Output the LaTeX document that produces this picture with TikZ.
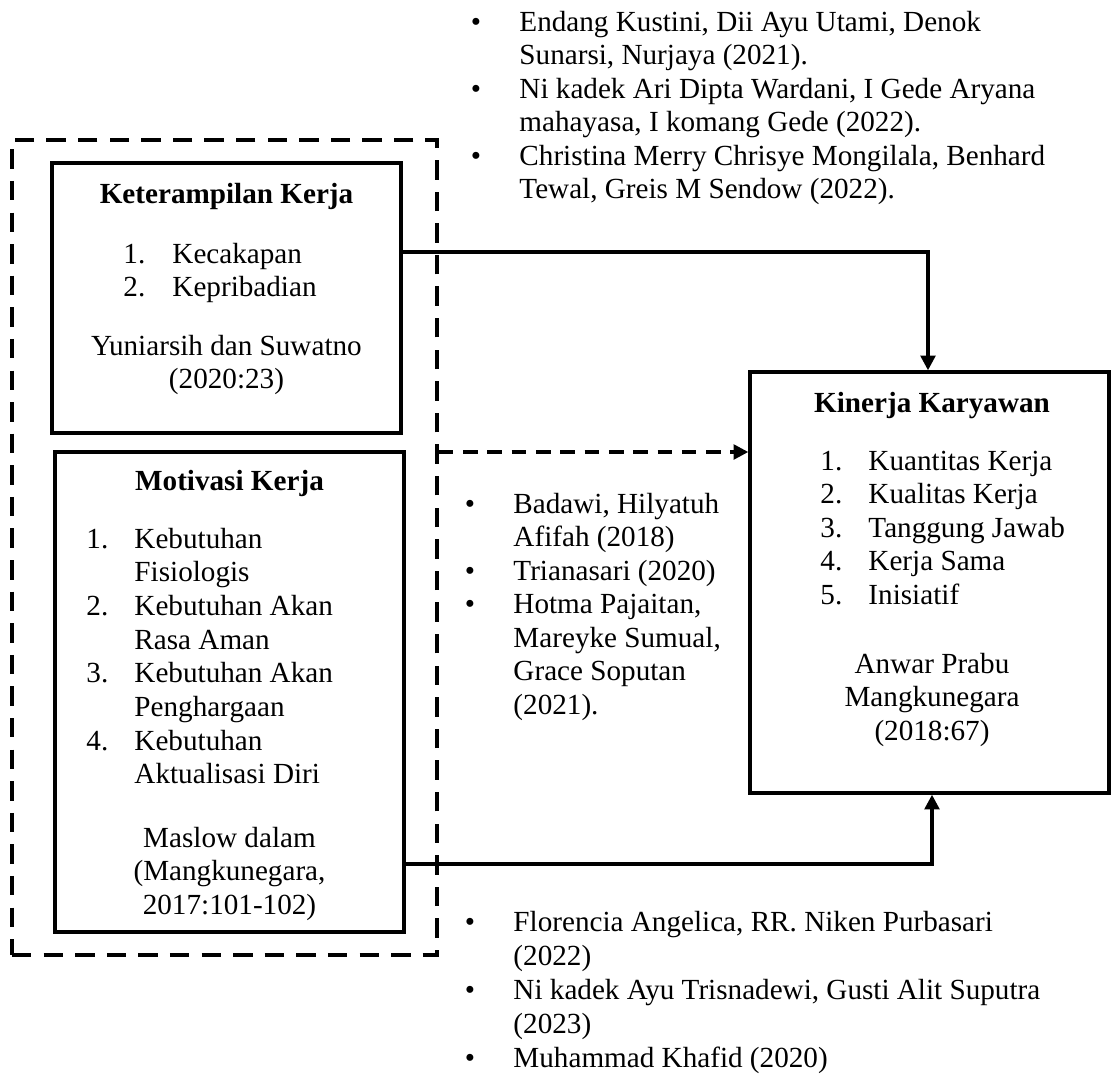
\documentclass[tikz,border=0pt]{standalone}
\usepackage{fontspec}
\setmainfont{Liberation Serif}
\usetikzlibrary{arrows.meta,fit}
\begin{document}
\begin{tikzpicture}[x=0.4115pt,y=-0.4115pt,
  box/.style={draw,line width=1.4pt,inner sep=0pt},
  grpbox/.style={draw,line width=1.5pt,inner sep=0pt,dash pattern=on 8pt off 5pt},
  txt/.style={inner sep=0pt,anchor=base west,font=\fontsize{12}{13.8}\selectfont},
  ctxt/.style={txt,anchor=base},
  btxt/.style={txt,anchor=base,font=\fontsize{12}{13.8}\selectfont\bfseries},
  bul/.style={txt,anchor=base},
  arr/.style={line width=1.35pt,-{Triangle[length=6pt,width=6pt]}},
  darr/.style={arr,dash pattern=on 6pt off 4pt}]
\useasboundingbox (0,0) rectangle (1112,1075);

% frames
\coordinate (g1) at (12,140); \coordinate (g2) at (437,955);
\node[grpbox,fit=(g1)(g2)] (grp) {};
\coordinate (k1) at (52,163); \coordinate (k2) at (401,433);
\node[box,fit=(k1)(k2)] (kk) {};
\coordinate (m1) at (55,452); \coordinate (m2) at (404,932);
\node[box,fit=(m1)(m2)] (mk) {};
\coordinate (n1) at (750,372); \coordinate (n2) at (1109,793);
\node[box,fit=(n1)(n2)] (kin) {};

% connectors
\coordinate (r1) at (928,252);
\coordinate (r2) at (932,864);
\coordinate (r3) at (600,452);
\draw[arr] (kk.east |- r1) -| (kin.north -| r1);
\draw[arr] (mk.east |- r2) -| (kin.south -| r2);
\draw[darr] (grp.east |- r3) -- (kin.west |- r3);

% top references
\node[bul] (tb1) at (476,31) {•};
\node[txt] (tt1) at (519,31) {Endang Kustini, Dii Ayu Utami, Denok};
\node[txt] (tt2) at (519,64.5) {Sunarsi, Nurjaya (2021).};
\node[bul] (tb2) at (476,98) {•};
\node[txt] (tt3) at (519,98) {Ni kadek Ari Dipta Wardani, I Gede Aryana};
\node[txt] (tt4) at (519,131.5) {mahayasa, I komang Gede (2022).};
\node[bul] (tb3) at (476,165) {•};
\node[txt] (tt5) at (519,165) {Christina Merry Chrisye Mongilala, Benhard};
\node[txt] (tt6) at (519,198.5) {Tewal, Greis M Sendow (2022).};

% Keterampilan Kerja
\node[btxt] (kkt) at (226.5,203) {Keterampilan Kerja};
\node[txt] (kn1) at (123,263) {1.};
\node[txt] (ki1) at (172,263) {Kecakapan};
\node[txt] (kn2) at (123,296) {2.};
\node[txt] (ki2) at (172,296) {Kepribadian};
\node[ctxt] (ks1) at (226.5,355) {Yuniarsih dan Suwatno};
\node[ctxt] (ks2) at (226.5,388.5) {(2020:23)};

% Motivasi Kerja
\node[btxt] (mkt) at (229.5,490) {Motivasi Kerja};
\node[txt] (mn1) at (86,548) {1.};
\node[txt] (mi1) at (134,548) {Kebutuhan};
\node[txt] (mi1b) at (134,581.7) {Fisiologis};
\node[txt] (mn2) at (86,615.4) {2.};
\node[txt] (mi2) at (134,615.4) {Kebutuhan Akan};
\node[txt] (mi2b) at (134,649.1) {Rasa Aman};
\node[txt] (mn3) at (86,682.8) {3.};
\node[txt] (mi3) at (134,682.8) {Kebutuhan Akan};
\node[txt] (mi3b) at (134,716.5) {Penghargaan};
\node[txt] (mn4) at (86,750.2) {4.};
\node[txt] (mi4) at (134,750.2) {Kebutuhan};
\node[txt] (mi4b) at (134,783.9) {Aktualisasi Diri};
\node[ctxt] (ms1) at (229.5,847) {Maslow dalam};
\node[ctxt] (ms2) at (229.5,880.5) {(Mangkunegara,};
\node[ctxt] (ms3) at (229.5,914) {2017:101-102)};

% Kinerja Karyawan
\node[btxt] (knt) at (932,412) {Kinerja Karyawan};
\node[txt] (nn1) at (820,470) {1.};
\node[txt] (ni1) at (868,470) {Kuantitas Kerja};
\node[txt] (nn2) at (820,503.5) {2.};
\node[txt] (ni2) at (868,503.5) {Kualitas Kerja};
\node[txt] (nn3) at (820,537) {3.};
\node[txt] (ni3) at (868,537) {Tanggung Jawab};
\node[txt] (nn4) at (820,570.5) {4.};
\node[txt] (ni4) at (868,570.5) {Kerja Sama};
\node[txt] (nn5) at (820,604) {5.};
\node[txt] (ni5) at (868,604) {Inisiatif};
\node[ctxt] (ns1) at (932,673) {Anwar Prabu};
\node[ctxt] (ns2) at (932,706.5) {Mangkunegara};
\node[ctxt] (ns3) at (932,740) {(2018:67)};

% middle references
\node[bul] (mb1) at (470,513) {•};
\node[txt] (mt1) at (513,513) {Badawi, Hilyatuh};
\node[txt] (mt2) at (513,546.5) {Afifah (2018)};
\node[bul] (mb2) at (470,580) {•};
\node[txt] (mt3) at (513,580) {Trianasari (2020)};
\node[bul] (mb3) at (470,613.5) {•};
\node[txt] (mt4) at (513,613.5) {Hotma Pajaitan,};
\node[txt] (mt5) at (513,647) {Mareyke Sumual,};
\node[txt] (mt6) at (513,680.5) {Grace Soputan};
\node[txt] (mt7) at (513,714) {(2021).};

% bottom references
\node[bul] (bb1) at (470,931) {•};
\node[txt] (bt1) at (513,931) {Florencia Angelica, RR. Niken Purbasari};
\node[txt] (bt2) at (513,965) {(2022)};
\node[bul] (bb2) at (470,999) {•};
\node[txt] (bt3) at (513,999) {Ni kadek Ayu Trisnadewi, Gusti Alit Suputra};
\node[txt] (bt4) at (513,1033) {(2023)};
\node[bul] (bb3) at (470,1067) {•};
\node[txt] (bt5) at (513,1067) {Muhammad Khafid (2020)};
\end{tikzpicture}
\end{document}
